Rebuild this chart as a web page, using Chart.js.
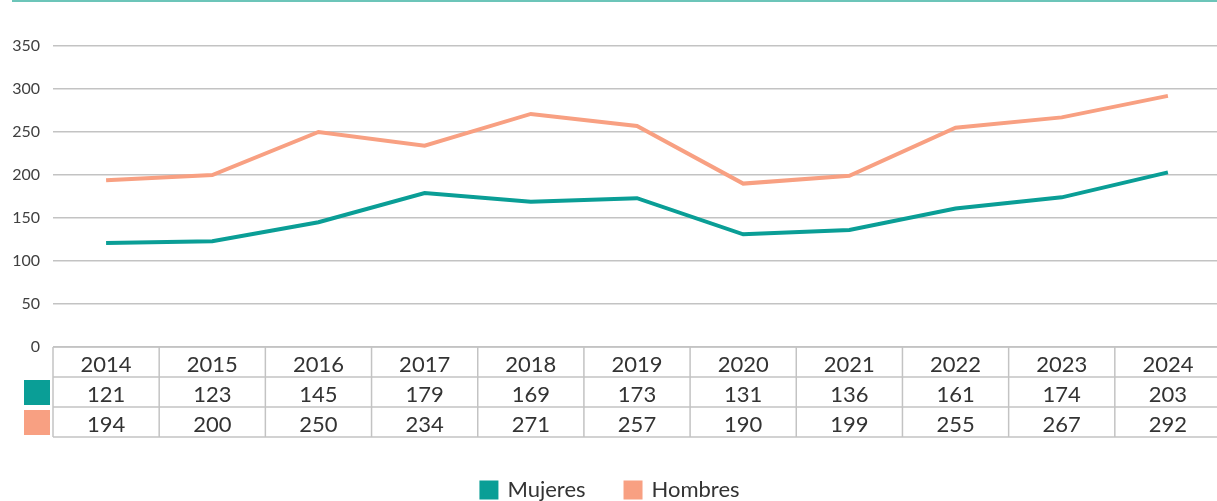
<!DOCTYPE html>
<html>
<head>
<meta charset="utf-8">
<script src="https://cdn.jsdelivr.net/npm/chart.js@4"></script>
<style>
html,body{margin:0;padding:0;background:#fff;overflow:hidden;}
#wrap{width:1222px;height:501px;position:relative;}
</style>
</head>
<body>
<div id="wrap"><canvas id="c"></canvas></div>
<script>
const years = ['2014','2015','2016','2017','2018','2019','2020','2021','2022','2023','2024'];
const mujeres = [121,123,145,179,169,173,131,136,161,174,203];
const hombres = [194,200,250,234,271,257,190,199,255,267,292];
const yTicks = [0,50,100,150,200,250,300,350];
const seriesNames = ['Mujeres','Hombres'];
const seriesColors = ['#0a9e96','#f8a082'];
const FONT = 'Lato, "Noto Sans", sans-serif';

const tablePlugin = {
  id: 'tablePlugin',
  beforeDraw(chart) {
    const ctx = chart.ctx;
    ctx.save();
    ctx.strokeStyle = '#6cc5b9';
    ctx.lineWidth = 2;
    ctx.beginPath();
    ctx.moveTo(12, 1);
    ctx.lineTo(chart.width, 1);
    ctx.stroke();
    ctx.restore();
  },
  afterDraw(chart) {
    const ctx = chart.ctx;
    const xs = chart.scales.x;
    const area = chart.chartArea;
    const left = area.left, right = area.right;
    const n = years.length;
    const colW = (right - left) / n;
    const top = area.bottom;
    const rowH = 30;
    const rows = [years, mujeres, hombres];
    ctx.save();
    ctx.strokeStyle = '#c3c3c3';
    ctx.lineWidth = 1.5;
    for (let r = 0; r <= rows.length; r++) {
      const y = top + r * rowH;
      ctx.beginPath();
      ctx.moveTo(left, y);
      ctx.lineTo(right, y);
      ctx.stroke();
    }
    for (let i = 0; i <= n; i++) {
      const x = left + i * colW;
      ctx.beginPath();
      ctx.moveTo(x, top);
      ctx.lineTo(x, top + rows.length * rowH);
      ctx.stroke();
    }
    for (let s = 0; s < 2; s++) {
      ctx.fillStyle = seriesColors[s];
      ctx.fillRect(24, top + (s + 1) * rowH + 3, 26, 25);
    }
    ctx.fillStyle = '#333333';
    ctx.font = '22px ' + FONT;
    ctx.textAlign = 'center';
    ctx.textBaseline = 'middle';
    for (let r = 0; r < rows.length; r++) {
      for (let i = 0; i < n; i++) {
        const x = xs.getPixelForValue(i);
        ctx.fillText(String(rows[r][i]), x, top + r * rowH + rowH / 2 + 3);
      }
    }
    ctx.restore();
  }
};

new Chart(document.getElementById('c'), {
  type: 'line',
  data: {
    labels: years,
    datasets: [
      { label: seriesNames[0], data: mujeres, borderColor: seriesColors[0], backgroundColor: seriesColors[0], borderWidth: 4, pointRadius: 0, tension: 0 },
      { label: seriesNames[1], data: hombres, borderColor: seriesColors[1], backgroundColor: seriesColors[1], borderWidth: 4, pointRadius: 0, tension: 0 }
    ]
  },
  options: {
    responsive: true,
    maintainAspectRatio: false,
    animation: false,
    layout: { padding: { top: 46, left: 0, right: 1, bottom: -10 } },
    plugins: {
      tooltip: { enabled: false },
      legend: {
        position: 'bottom',
        labels: {
          font: { family: FONT, size: 22 },
          color: '#333333',
          boxWidth: 15,
          boxHeight: 15,
          padding: 40
        }
      }
    },
    scales: {
      x: {
        offset: true,
        grid: { display: false },
        border: { display: false },
        ticks: { display: false },
        afterFit(scale) { scale.height = 92; }
      },
      y: {
        min: 0,
        max: 350,
        afterBuildTicks(scale) { scale.ticks = yTicks.map(v => ({ value: v })); },
        grid: { color: '#c3c3c3', lineWidth: 1.5, drawTicks: false },
        border: { display: false },
        ticks: { font: { family: FONT, size: 16 }, color: '#404040', padding: 13 },
        afterFit(scale) { scale.width = 53; }
      }
    }
  },
  plugins: [tablePlugin]
});
</script>
</body>
</html>
